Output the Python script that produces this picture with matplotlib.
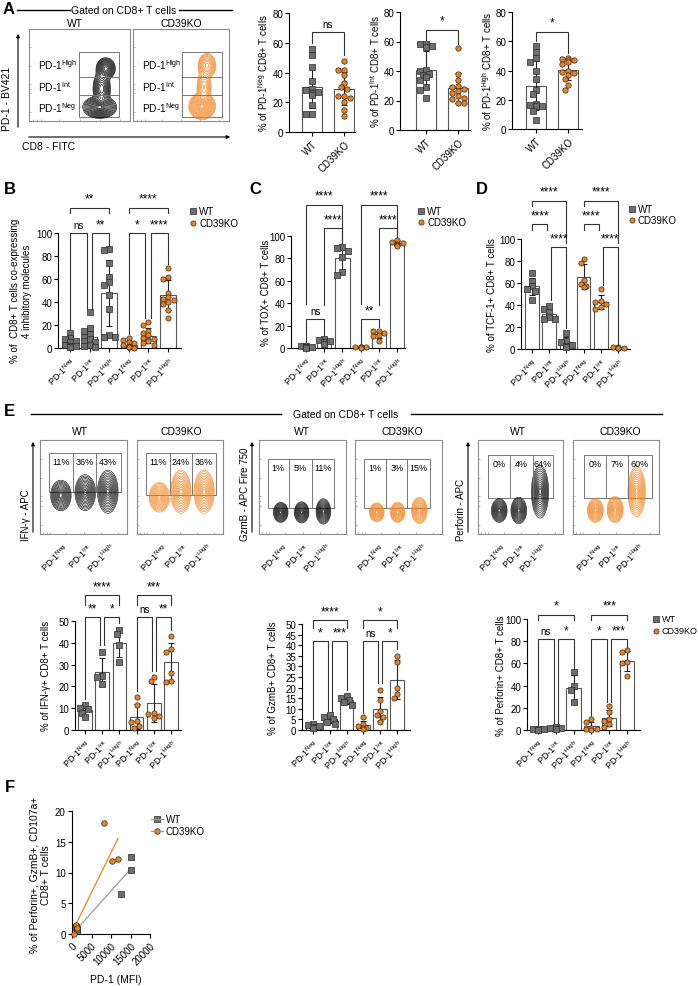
import numpy as np
import matplotlib
matplotlib.use('Agg')
import matplotlib.pyplot as plt
from matplotlib.patches import Rectangle

plt.rcParams['font.family'] = ['Liberation Sans', 'DejaVu Sans']
plt.rcParams['mathtext.fontset'] = 'custom'
plt.rcParams['mathtext.rm'] = 'Liberation Sans'
plt.rcParams['mathtext.it'] = 'Liberation Sans:italic'
plt.rcParams['mathtext.bf'] = 'Liberation Sans:bold'
plt.rcParams['mathtext.default'] = 'regular'
plt.rcParams['axes.linewidth'] = 0.8

W, H = 698, 987
WT_C = '#6e6e6e'
KO_C = '#f0821e'
EDGE = '#2a2a2a'

# ------------------------------------------------------------------ data
GENOTYPES = ['WT', 'CD39KO']
PD1_LABELS = ['PD-1$^{Neg}$', 'PD-1$^{Int}$', 'PD-1$^{High}$']
SUBSET_LABELS = PD1_LABELS * 2

# Panel A (% of CD8+ T cells in each PD-1 gate)
A_NEG_WT = [56, 52, 44, 34, 29, 28, 27, 26, 26, 25, 18, 12, 12]
A_NEG_KO = [48, 42, 42, 38, 33, 30, 29, 24, 24, 23, 20, 15, 11]
A_INT_WT = [58, 58, 57, 56, 41, 40, 38, 37, 36, 34, 29, 27, 22]
A_INT_KO = [55.6, 37.7, 34, 30, 29, 28, 26.5, 25, 23, 22, 21, 18, 18]
A_HIGH_WT = [57, 52.6, 48.5, 46, 40, 34, 27, 24, 17, 16.5, 16, 15.5, 12.5, 6]
A_HIGH_KO = [48.5, 48, 47.5, 47, 46, 44.5, 40, 39, 38.5, 37, 34, 30, 27]

# Panel B (% co-expressing 4 inhibitory molecules)
B_WT = [[13, 9, 8, 6, 5, 3, 2, 2, 1, 1, 0.5],
        [31, 17, 15, 12, 10, 8, 6, 5, 3, 2, 1],
        [86, 85, 74, 62, 57, 55, 46, 34, 11, 10, 10]]
B_KO = [[9, 7, 5, 4, 3, 2, 1, 1, 0.5, 0.5, 0],
        [23, 20, 15, 13, 11, 9, 8, 7, 6, 4, 3],
        [70, 62, 60, 48, 44, 43, 42, 40, 38, 33, 26]]

# Panel C (% TOX+)
C_WT = [[2, 1.5, 1, 0.5, 0.5, 0], [8, 7, 6, 5, 5, 4], [90, 89, 87, 81, 68, 65]]
C_KO = [[1, 1, 0.5, 0.5, 0.5, 0], [15.5, 15, 13.6, 12, 10.5, 6], [96, 95, 94, 93, 92, 91]]

# Panel D (% TCF-1+)
D_WT = [[69, 62, 57, 55, 53, 45], [39, 36, 34, 29, 27, 27], [15, 7, 6, 4, 3, 2]]
D_KO = [[82, 78, 63, 59, 57, 56], [55, 44, 43, 41, 38, 36], [2, 1.5, 1, 1, 0.5, 0.5]]

# Panel E (cytokine / cytotoxic molecules)
IFN_WT = [[11.5, 10, 9.5, 8, 6], [36, 25, 24.5, 21], [46, 44, 39, 31]]
IFN_KO = [[15, 11.5, 4, 3.5, 2, 1], [24.5, 22.5, 8, 7.5, 6.5, 5.5], [43, 37, 36, 26, 22.5, 22]]
GZMB_WT = [[3, 2.5, 2, 1.5, 1], [7, 6, 5, 4, 3], [16, 15, 14, 13, 12]]
GZMB_KO = [[6, 3, 2, 1, 1, 0.5], [19, 14, 9, 7, 6, 4], [35, 32, 20, 17, 15]]
PRF_WT = [[1, 0.5, 0.5, 0], [3, 2, 1.5, 1], [52, 40, 36, 25]]
PRF_KO = [[10, 7, 2, 1, 0.5, 0], [22, 16, 10, 8, 5, 3], [72, 70, 61, 60, 49]]

# Flow gate percentages (panel E)
IFN_PCT = [['11%', '36%', '43%'], ['11%', '24%', '36%']]
GZMB_PCT = [['1%', '5%', '11%'], ['1%', '3%', '15%']]
PRF_PCT = [['0%', '4%', '64%'], ['0%', '7%', '60%']]

# Flow population summaries (centre x, centre y, spread x, spread y, weight)
A_WT_POPS = [(0.70, 0.15, 0.058, 0.042, 1.0), (0.72, 0.35, 0.032, 0.075, 0.55),
             (0.76, 0.57, 0.034, 0.042, 0.75)]
A_KO_POPS = [(0.72, 0.16, 0.048, 0.050, 1.0), (0.74, 0.37, 0.030, 0.070, 0.28),
             (0.77, 0.60, 0.036, 0.052, 0.40)]
IFN_WT_POPS = [(0.24, 0.41, 0.042, 0.058, 1), (0.52, 0.44, 0.042, 0.068, 1), (0.78, 0.45, 0.042, 0.082, 1)]
IFN_KO_POPS = [(0.26, 0.39, 0.042, 0.056, 1), (0.51, 0.45, 0.042, 0.082, 1), (0.78, 0.45, 0.042, 0.082, 1)]
GZMB_WT_POPS = [(0.25, 0.23, 0.030, 0.038, 1), (0.49, 0.23, 0.030, 0.040, 1), (0.74, 0.24, 0.030, 0.048, 1)]
GZMB_KO_POPS = [(0.25, 0.23, 0.030, 0.036, 1), (0.49, 0.23, 0.030, 0.038, 1), (0.74, 0.25, 0.032, 0.050, 1)]
PRF_WT_POPS = [(0.25, 0.25, 0.033, 0.045, 1), (0.48, 0.25, 0.033, 0.050, 1), (0.73, 0.45, 0.036, 0.100, 1)]
PRF_KO_POPS = [(0.26, 0.25, 0.033, 0.045, 1), (0.49, 0.26, 0.033, 0.050, 1), (0.74, 0.45, 0.036, 0.095, 1)]

# Panel F
F_WT_MFI = [15100, 15000, 12500, 1000, 1300, 1200]
F_WT_PCT = [12.6, 10.4, 6.5, 1.2, 0.8, 0.6]
F_KO_MFI = [8300, 10300, 11800, 1000, 600, 1200]
F_KO_PCT = [18.1, 11.9, 12.2, 1.4, 0.05, 1.0]

# ------------------------------------------------------------------ figure
fig = plt.figure(figsize=(W / 100, H / 100), dpi=100)
fig.patch.set_facecolor('white')
ov = fig.add_axes([0, 0, 1, 1], zorder=10)
ov.set_xlim(0, W)
ov.set_ylim(H, 0)
ov.axis('off')
ov.patch.set_alpha(0)


def px_axes(L, T, R, B):
    return fig.add_axes([L / W, 1 - B / H, (R - L) / W, (B - T) / H])


def swarm(vals, xs, ys, d, maxoff):
    placed = []
    offs = np.zeros(len(vals))
    order = np.argsort(-np.asarray(vals))
    cands = [0, -0.55, 0.55, -1.1, 1.1, -1.65, 1.65, -2.2, 2.2]
    for i in order:
        y = vals[i] * ys
        chosen = None
        for c in cands:
            x = c * d
            if abs(x) > maxoff:
                continue
            if all((x - px) ** 2 + (y - py) ** 2 >= (0.9 * d) ** 2 for px, py in placed):
                chosen = x
                break
        if chosen is None:
            chosen = 0.0
        placed.append((chosen, y))
        offs[i] = chosen / xs
    return offs


def bar_panel(L, R, y0, k, ytop, P0, S, groups, kinds, width, yticks, xlabels, dpx=5.0, ms=14):
    ax = px_axes(L, y0 - ytop * k, R, y0)
    ax.set_xlim((L - P0) / S, (R - P0) / S)
    ax.set_ylim(0, ytop)
    for i, (vals, kind) in enumerate(zip(groups, kinds)):
        v = np.asarray(vals, float)
        m = v.mean()
        sd = v.std(ddof=1)
        ax.bar(i, m, width, color='white', edgecolor='#555555', lw=0.8, zorder=1)
        ax.errorbar(i, m, yerr=sd, fmt='none', ecolor='#222222', elinewidth=0.8,
                    capsize=2.2, capthick=0.8, zorder=3)
        offs = swarm(v, S, k, dpx, width * S * 0.42)
        ax.scatter(i + offs, v, marker='s' if kind == 'WT' else 'o', s=ms,
                   c=WT_C if kind == 'WT' else KO_C, edgecolors=EDGE, linewidths=0.5,
                   zorder=4, clip_on=False)
    for sp in ['top', 'right']:
        ax.spines[sp].set_visible(False)
    ax.patch.set_alpha(0)
    ax.set_yticks(yticks)
    ax.spines['left'].set_bounds(yticks[0], yticks[-1])
    ax.set_xticks(range(len(groups)))
    ax.set_xticklabels(xlabels, rotation=45, ha='right', rotation_mode='anchor', fontsize=6.5)
    ax.tick_params(axis='y', length=3, width=0.8, labelsize=7, pad=1.2)
    ax.tick_params(axis='x', length=3, width=0.8, pad=2)
    return ax


def bracket(ax, x1, x2, top, l1, l2, text, tdy):
    ax.plot([x1, x1, x2, x2], [l1, top, top, l2], color='#333333', lw=0.8,
            clip_on=False, zorder=2, solid_joinstyle='miter')
    fs = 8.5 if set(text) == {'*'} else 7
    ax.text((x1 + x2) / 2, top + tdy, text, ha='center', va='bottom', fontsize=fs, clip_on=False)


def legend_px(x, y, kind, fs=7):
    ov.scatter([x], [y], marker='s' if kind == 'WT' else 'o', s=14,
               c=WT_C if kind == 'WT' else KO_C, edgecolors=EDGE, linewidths=0.5)
    ov.text(x + 6, y, kind, fontsize=fs, va='center', ha='left')


def density_contours(ax, pops, color, lw=0.4, nlev=13, rmax=2.8):
    g = np.linspace(0, 1, 300)
    X, Y = np.meshgrid(g, g)
    Z = np.zeros_like(X)
    for cx, cy, sx, sy, w in pops:
        Z += w * np.exp(-((X - cx) ** 2 / (2 * sx ** 2) + (Y - cy) ** 2 / (2 * sy ** 2)))
    radii = np.linspace(rmax, 0.35, nlev)
    levels = Z.max() * np.exp(-radii ** 2 / 2)
    ax.contour(X, Y, Z, levels=levels, colors=color, linewidths=lw)


def flow_axes(L, T, R, B):
    ax = px_axes(L, T, R, B)
    ax.set_xlim(0, 1)
    ax.set_ylim(0, 1)
    for sp in ax.spines.values():
        sp.set_color('#8a8a8a')
        sp.set_linewidth(0.8)
    ax.set_xticks([0.04, 0.08, 0.12, 0.3, 0.5, 0.7, 0.9])
    ax.set_yticks([0.1, 0.3, 0.35, 0.4, 0.6, 0.8])
    ax.tick_params(direction='in', length=1.6, width=0.5, color='#9a9a9a',
                   labelbottom=False, labelleft=False)
    return ax


# ------------------------------------------------------------------ panel letters
for letter, (x, y) in {'A': (3, 10), 'B': (4, 189), 'C': (249, 189), 'D': (476, 189),
                       'E': (4, 411), 'F': (5, 787)}.items():
    ov.text(x, y, letter, fontsize=12, fontweight='bold', va='center', ha='left')

# ------------------------------------------------------------------ panel A flow
ov.plot([17, 70], [11, 11], color='black', lw=1.0)
ov.plot([179, 232], [11, 11], color='black', lw=1.0)
ov.text(124, 11, 'Gated on CD8+ T cells', fontsize=7.5, ha='center', va='center')
ov.text(75, 24, 'WT', fontsize=7.5, ha='center', va='center')
ov.text(181, 24, 'CD39KO', fontsize=7.5, ha='center', va='center')
ov.annotate('', xy=(18, 32), xytext=(18, 131),
            arrowprops=dict(arrowstyle='-|>', lw=0.8, color='black', mutation_scale=5))
ov.annotate('', xy=(233, 138), xytext=(26, 138),
            arrowprops=dict(arrowstyle='-|>', lw=0.8, color='black', mutation_scale=5))
ov.text(7, 131, 'PD-1 - BV421', fontsize=7.5, rotation=90, ha='center', va='bottom')
ov.text(22, 147, 'CD8 - FITC', fontsize=7.5, ha='left', va='center')

A_GATE_Y = [0.043, 0.283, 0.478, 0.75]
for box, gx, pops, col in [((29, 30, 130, 122), (0.495, 0.89), A_WT_POPS, 'black'),
                           ((133, 30, 229, 122), (0.51, 0.93), A_KO_POPS, KO_C)]:
    ax = flow_axes(*box)
    density_contours(ax, pops, col, lw=0.45, nlev=15, rmax=2.9)
    ax.add_patch(Rectangle((gx[0], A_GATE_Y[0]), gx[1] - gx[0], A_GATE_Y[3] - A_GATE_Y[0],
                           fill=False, ec='#777777', lw=0.7))
    for gy in A_GATE_Y[1:3]:
        ax.plot(gx, [gy, gy], color='#777777', lw=0.7)
    for lab, yy in zip(['PD-1$^{High}$', 'PD-1$^{Int}$', 'PD-1$^{Neg}$'], [0.62, 0.38, 0.15]):
        ax.text(0.09, yy, lab, fontsize=7.3, ha='left', va='center')

# ------------------------------------------------------------------ panel A bars
A_SPECS = [
    (289, 355, 133, 119 / 80, 312, [A_NEG_WT, A_NEG_KO], 'ns', 67, 60, 52,
     '% of PD-1$^{Neg}$ CD8+ T cells', 263),
    (400, 470, 131, 118 / 80, 426, [A_INT_WT, A_INT_KO], '*', 68, 61, 58,
     '% of PD-1$^{Int}$ CD8+ T cells', 375),
    (512, 582, 130, 117 / 80, 536, [A_HIGH_WT, A_HIGH_KO], '*', 66, 60, 52,
     '% of PD-1$^{High}$ CD8+ T cells', 487),
]
for L, R, y0, k, P0, grp, sig, top, l1, l2, ylab, ylx in A_SPECS:
    ax = bar_panel(L, R, y0, k, 80, P0, 32, grp, GENOTYPES, 0.62, [0, 20, 40, 60, 80],
                   GENOTYPES, dpx=5.2, ms=15)
    ax.set_xticklabels(GENOTYPES, rotation=45, ha='right', rotation_mode='anchor', fontsize=7)
    bracket(ax, 0, 1, top, l1, l2, sig, 2.5)
    ov.text(ylx, y0 - 40 * k, ylab, fontsize=7, rotation=90, ha='center', va='center')

# ------------------------------------------------------------------ panel B
axB = bar_panel(58, 181, 349, 1.15, 138, 70, 19.6, B_WT + B_KO, ['WT'] * 3 + ['CD39KO'] * 3,
                0.8, [0, 20, 40, 60, 80, 100], SUBSET_LABELS, dpx=5.0, ms=14)
for x1, x2, top, l1, l2, t in [(0, 0.85, 100, 16, 34, 'ns'), (1.12, 2, 100, 34, 89, '**'),
                               (0, 2, 122, 117, 117, '**'), (3, 3.85, 100, 12, 26, '*'),
                               (4.12, 5, 100, 26, 73, '****'), (3, 5, 122, 117, 117, '****')]:
    bracket(axB, x1, x2, top, l1, l2, t, 2.5)
ov.text(21, 291, '% of  CD8+ T cells co-expressing\n4 inhibitory molecules', fontsize=7,
        rotation=90, ha='center', va='center', multialignment='center', linespacing=1.15)
legend_px(193, 212, 'WT')
legend_px(193, 224, 'CD39KO')

# ------------------------------------------------------------------ panel C
axC = bar_panel(291, 405, 349, 1.12, 142, 306, 18.2, C_WT + C_KO, ['WT'] * 3 + ['CD39KO'] * 3,
                0.8, [0, 20, 40, 60, 80, 100], SUBSET_LABELS, dpx=5.0, ms=14)
for x1, x2, top, l1, l2, t in [(0, 1, 26, 5, 11, 'ns'), (1, 2, 107, 38, 93, '****'),
                               (0, 2, 128, 39, 93, '****'), (3, 4, 26, 4, 19, '**'),
                               (4, 5, 107, 38, 99, '****'), (3, 5, 128, 39, 99, '****')]:
    bracket(axC, x1, x2, top, l1, l2, t, 2.5)
ov.text(266, 293, '% of TOX+ CD8+ T cells', fontsize=7, rotation=90, ha='center', va='center')
legend_px(421, 212, 'WT')
legend_px(421, 223, 'CD39KO')

# ------------------------------------------------------------------ panel D
axD = bar_panel(521, 630, 350, 1.10, 147, 532, 17.2, D_WT + D_KO, ['WT'] * 3 + ['CD39KO'] * 3,
                0.8, [0, 20, 40, 60, 80, 100], SUBSET_LABELS, dpx=5.0, ms=14)
for x1, x2, top, l1, l2, t in [(0, 0.9, 113.6, 108, 108, '****'), (0, 2, 135, 130, 96, '****'),
                               (1.1, 2, 93, 45, 19, '****'), (3, 3.9, 113.6, 108, 108, '****'),
                               (3, 5, 135, 130, 96, '****'), (4.1, 5, 93, 58, 5, '****')]:
    bracket(axD, x1, x2, top, l1, l2, t, 2.5)
ov.text(492, 295, '% of TCF-1+ CD8+ T cells', fontsize=7, rotation=90, ha='center', va='center')
legend_px(632, 210, 'WT')
legend_px(632, 221, 'CD39KO')

# ------------------------------------------------------------------ panel E flow
ov.plot([31, 281], [415, 415], color='black', lw=1.0)
ov.plot([411, 662], [415, 415], color='black', lw=1.0)
ov.text(346, 415, 'Gated on CD8+ T cells', fontsize=7.5, ha='center', va='center')

E_FLOW = [
    # (box, title_x, gate x edges, gate y, pops, pct, colour)
    ((40, 441, 127, 535), 80, [0.10, 0.38, 0.64, 0.93], (0.45, 0.86), IFN_WT_POPS, IFN_PCT[0], 'black'),
    ((137, 441, 223, 535), 181, [0.105, 0.38, 0.64, 0.92], (0.42, 0.86), IFN_KO_POPS, IFN_PCT[1], KO_C),
    ((259, 441, 346, 535), 302, [0.10, 0.34, 0.61, 0.86], (0.28, 0.80), GZMB_WT_POPS, GZMB_PCT[0], 'black'),
    ((355, 441, 442, 535), 402, [0.10, 0.36, 0.60, 0.86], (0.28, 0.80), GZMB_KO_POPS, GZMB_PCT[1], KO_C),
    ((478, 441, 563, 535), 518, [0.12, 0.38, 0.65, 0.88], (0.38, 0.84), PRF_WT_POPS, PRF_PCT[0], 'black'),
    ((573, 441, 659, 535), 620, [0.13, 0.38, 0.64, 0.92], (0.38, 0.84), PRF_KO_POPS, PRF_PCT[1], KO_C),
]
for i, (box, tx, gx, gy, pops, pct, col) in enumerate(E_FLOW):
    ax = flow_axes(*box)
    density_contours(ax, pops, col, lw=0.4, nlev=13, rmax=2.8)
    ax.add_patch(Rectangle((gx[0], gy[0]), gx[3] - gx[0], gy[1] - gy[0], fill=False,
                           ec='#777777', lw=0.7))
    for xx in gx[1:3]:
        ax.plot([xx, xx], gy, color='#777777', lw=0.7)
    for j in range(3):
        ax.text((gx[j] + gx[j + 1]) / 2, gy[1] - 0.09, pct[j], fontsize=6.5,
                ha='center', va='center')
    ov.text(tx, 432, 'WT' if i % 2 == 0 else 'CD39KO', fontsize=7.5, ha='center', va='center')
    L, T, R, B = box
    for j, (cx, _, _, _, _) in enumerate(pops):
        xpx = L + cx * (R - L)
        ov.text(xpx + 6, B + 11, PD1_LABELS[j], fontsize=6.5, rotation=45,
                ha='right', va='center', rotation_mode='anchor')

for ax_x, lab in [(33, 'IFN-γ - APC'), (252, 'GzmB - APC Fire 750'), (468, 'Perforin - APC')]:
    ov.annotate('', xy=(ax_x, 440), xytext=(ax_x, 536),
                arrowprops=dict(arrowstyle='-|>', lw=0.8, color='black', mutation_scale=5))
    ov.text(ax_x - 7, 541, lab, fontsize=7, rotation=90, ha='center', va='bottom')

# ------------------------------------------------------------------ panel E bars
KINDS6 = ['WT'] * 3 + ['CD39KO'] * 3
axI = bar_panel(75, 181, 731, 2.18, 67, 85, 17.2, IFN_WT + IFN_KO, KINDS6, 0.8,
                [0, 10, 20, 30, 40, 50], SUBSET_LABELS, dpx=5.0, ms=14)
for x1, x2, top, l1, l2, t in [(0, 0.88, 52, 14, 39, '**'), (1.12, 2, 52, 39, 49, '*'),
                               (0, 2, 62, 57.5, 57.5, '****'), (3, 3.88, 52, 18, 27, 'ns'),
                               (4.12, 5, 52, 27, 46, '**'), (3, 5, 62, 57.5, 57.5, '***')]:
    bracket(axI, x1, x2, top, l1, l2, t, 1.2)
ov.text(46, 676, '% of IFN-γ+ CD8+ T cells', fontsize=7, rotation=90, ha='center', va='center')

axG = bar_panel(302, 410, 731, 2.12, 62, 313, 16.8, GZMB_WT + GZMB_KO, KINDS6, 0.8,
                list(range(0, 51, 5)), SUBSET_LABELS, dpx=5.0, ms=14)
for x1, x2, top, l1, l2, t in [(0, 0.88, 42, 5, 9, '*'), (1.12, 2, 42, 9, 19, '***'),
                               (0, 2, 52, 48, 48, '****'), (3, 3.88, 42, 8, 22, 'ns'),
                               (4.12, 5, 42, 22, 38, '*'), (3, 5, 52, 48, 48, '*')]:
    bracket(axG, x1, x2, top, l1, l2, t, 1.2)
ov.text(273, 678, '% of GzmB+ CD8+ T cells', fontsize=7, rotation=90, ha='center', va='center')

axP = bar_panel(527, 640, 731, 1.11, 118, 538, 17.8, PRF_WT + PRF_KO, KINDS6, 0.8,
                [0, 20, 40, 60, 80, 100], SUBSET_LABELS, dpx=5.0, ms=14)
for x1, x2, top, l1, l2, t in [(0, 0.88, 82, 3, 6, 'ns'), (1.12, 2, 82, 6, 56, '*'),
                               (0, 2, 104, 99, 99, '*'), (3, 3.88, 82, 13, 25, '*'),
                               (4.12, 5, 82, 25, 75, '***'), (3, 5, 104, 99, 99, '***')]:
    bracket(axP, x1, x2, top, l1, l2, t, 2.5)
ov.text(501, 676, '% of Perforin+ CD8+ T cells', fontsize=7, rotation=90, ha='center', va='center')
legend_px(656, 620, 'WT', fs=6.5)
legend_px(656, 632, 'CD39KO', fs=6.5)

# ------------------------------------------------------------------ panel F
axF = px_axes(72, 812, 150, 935)
axF.set_xlim(0, 20000)
axF.set_ylim(0, 20)
for xs_, ys_, kind in [(F_WT_MFI, F_WT_PCT, 'WT'), (F_KO_MFI, F_KO_PCT, 'CD39KO')]:
    xa = np.asarray(xs_, float)
    ya = np.asarray(ys_, float)
    slope, icpt = np.polyfit(xa, ya, 1)
    xx = np.array([xa.min(), xa.max()])
    axF.plot(xx, slope * xx + icpt, color='#9a9a9a' if kind == 'WT' else KO_C, lw=0.9, zorder=2)
    axF.scatter(xa, ya, marker='s' if kind == 'WT' else 'o', s=16,
                c=WT_C if kind == 'WT' else KO_C, edgecolors=EDGE, linewidths=0.5,
                zorder=4, clip_on=False)
for sp in ['top', 'right']:
    axF.spines[sp].set_visible(False)
axF.patch.set_alpha(0)
axF.set_xticks([0, 5000, 10000, 15000, 20000])
axF.set_xticklabels(['0', '5000', '10000', '15000', '20000'], rotation=45, ha='right',
                    rotation_mode='anchor', fontsize=7)
axF.set_yticks([0, 5, 10, 15, 20])
axF.tick_params(length=3, width=0.8, labelsize=7, pad=1.5)
ov.text(116, 980, 'PD-1 (MFI)', fontsize=7.5, ha='center', va='center')
ov.text(40, 875, '% of Perforin+, GzmB+, CD107a+\nCD8+ T cells', fontsize=7.5, rotation=90,
        ha='center', va='center', multialignment='center', linespacing=1.15)
for yy, kind, lc in [(820, 'WT', '#9a9a9a'), (832, 'CD39KO', KO_C)]:
    ov.plot([151, 163], [yy, yy], color=lc, lw=0.9)
    ov.scatter([157], [yy], marker='s' if kind == 'WT' else 'o', s=16,
               c=WT_C if kind == 'WT' else KO_C, edgecolors=EDGE, linewidths=0.5)
    ov.text(166, yy, kind, fontsize=7, va='center', ha='left')

fig.savefig('out.png', dpi=100, facecolor='white')
